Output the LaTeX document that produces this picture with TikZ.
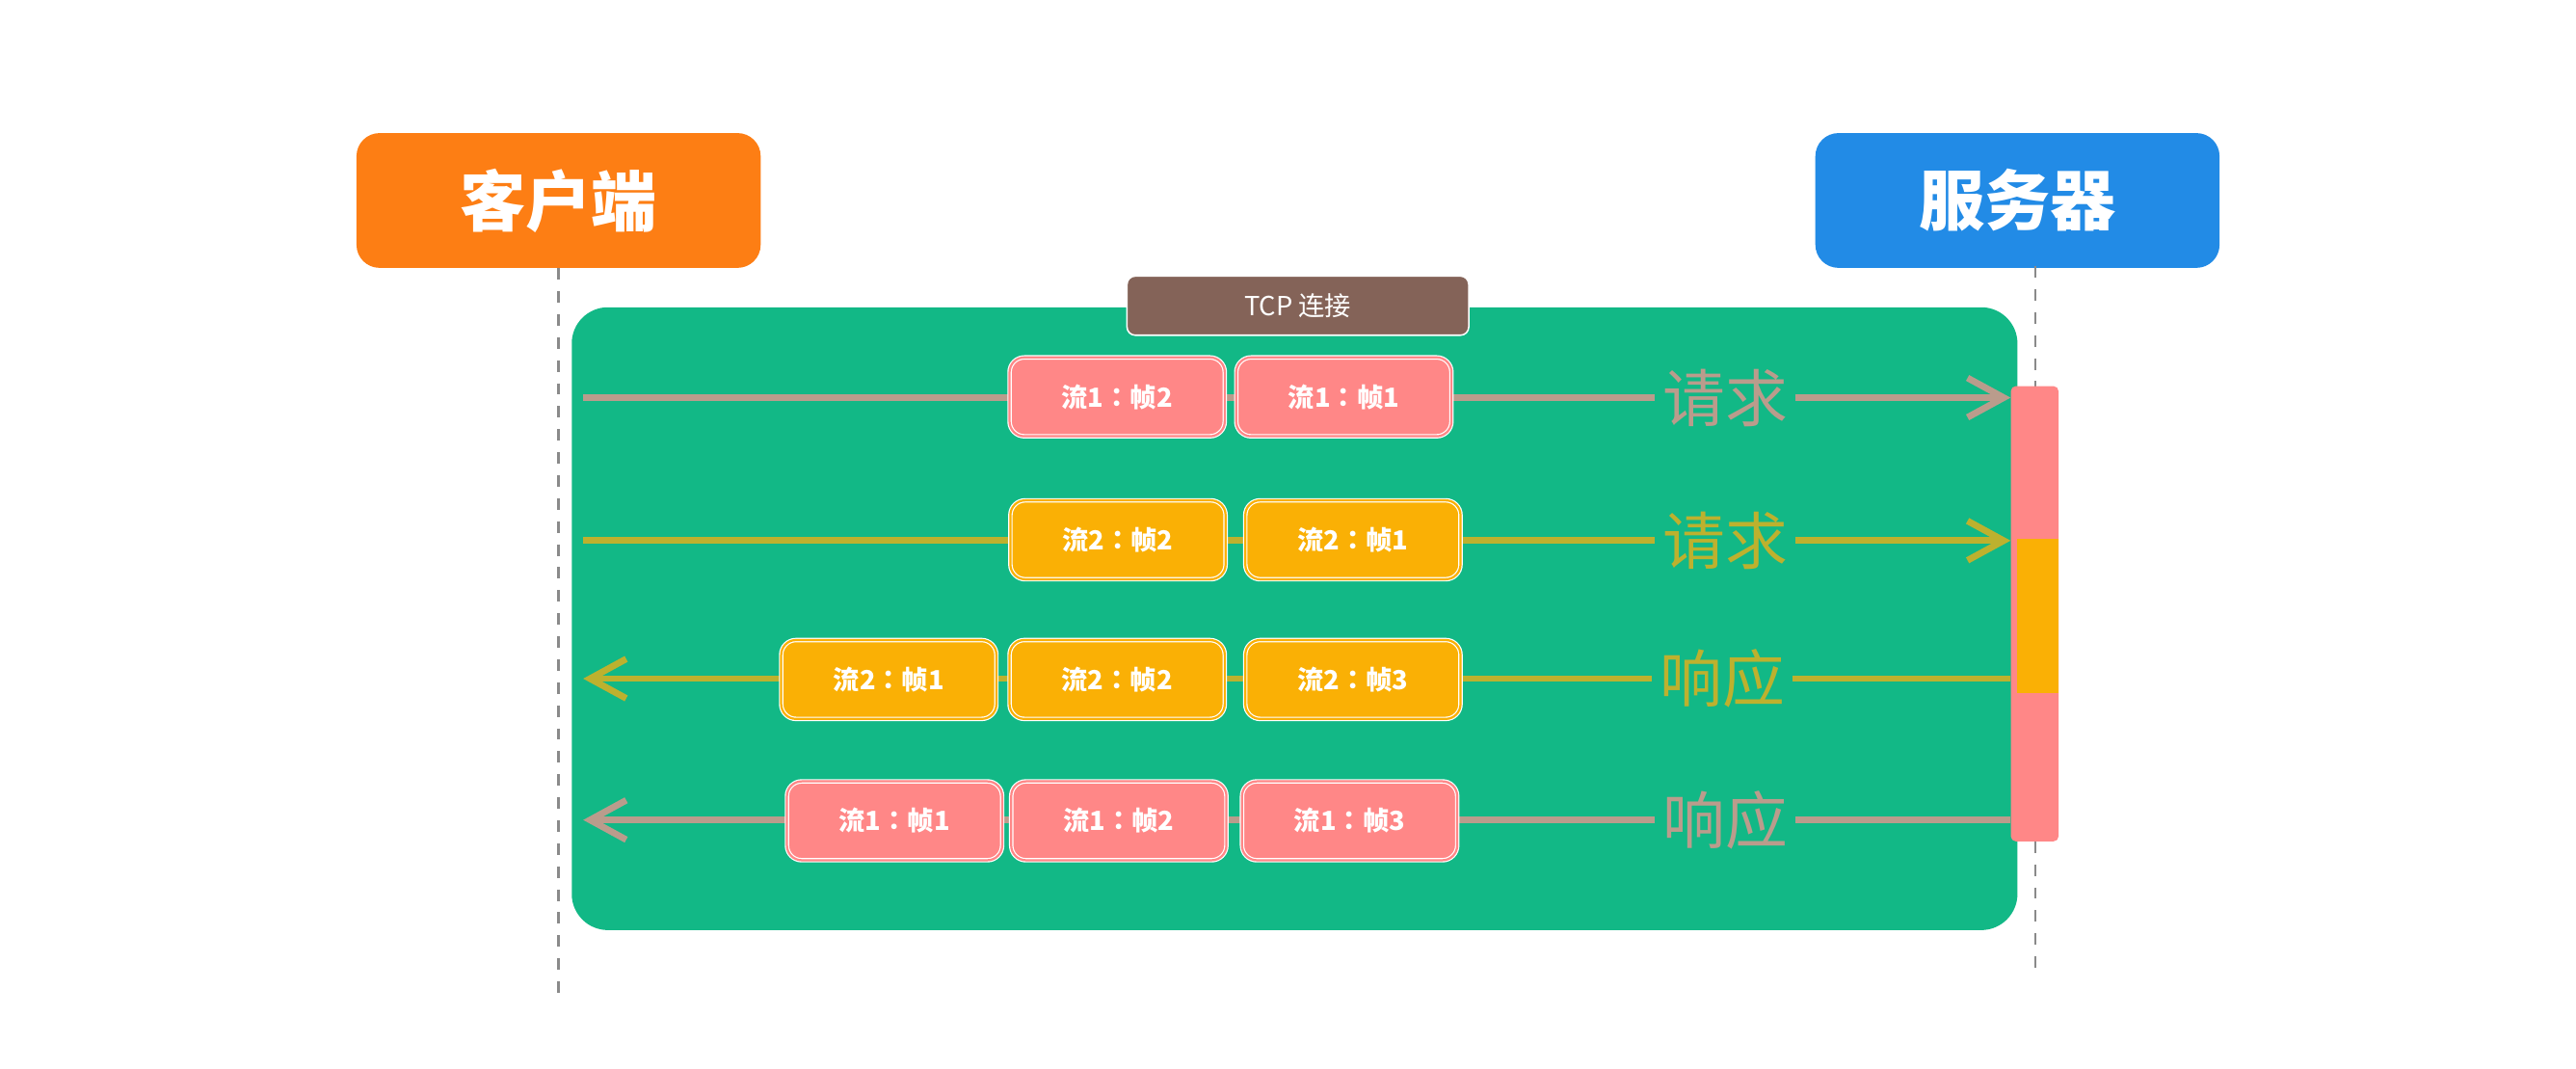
\documentclass[tikz,border=0pt]{standalone}
\usepackage{fontspec}
\setmainfont{Noto Sans CJK SC}
\newfontfamily\framefont{Noto Sans CJK TC}
\usetikzlibrary{arrows.meta}
\definecolor{conngreen}{HTML}{12B886}
\definecolor{framepink}{HTML}{FF8787}
\definecolor{frameorange}{HTML}{FAB005}
\definecolor{tcpbrown}{HTML}{846358}
\definecolor{clientorange}{HTML}{FD7E14}
\definecolor{serverblue}{HTML}{228BE6}
\definecolor{lineone}{HTML}{BA9C8C}
\definecolor{linetwo}{HTML}{BDB12E}
\definecolor{lifegray}{HTML}{8A8A8A}
\begin{document}
\begin{tikzpicture}[x=1pt,y=-1pt,
  header/.style={fill=#1, rounded corners=14pt, minimum width=246pt, minimum height=82pt,
    inner sep=0pt, text=white, font=\fontsize{40}{40}\selectfont\bfseries},
  framebox/.style={fill=#1, draw=white, double=#1, double distance=1.3pt, line width=0.7pt,
    rounded corners=9pt, minimum width=131pt, minimum height=48pt, inner sep=0pt,
    text=white, font=\framefont\fontsize{16}{16}\selectfont\bfseries},
  life/.style={draw=lifegray, line width=1.4pt, dash pattern=on 7pt off 7pt},
  flow/.style={draw=#1, line width=4pt},
  rtip/.style={-{Straight Barb[length=22pt,width=24pt]}},
  ltip/.style={{Straight Barb[length=22pt,width=24pt]}-},
  lab/.style={fill=conngreen, inner sep=5pt, text=#1, font=\fontsize{38}{38}\selectfont}]
\useasboundingbox (0,0) rectangle (1568,650);

% header boxes
\node[header=clientorange] (client) at (340,122) {客户端};
\node[header=serverblue] (server) at (1228,122) {服务器};

% lifelines
\coordinate (cEnd) at (340,610);
\coordinate (sTop) at (1239,162);
\coordinate (sEnd) at (1239,595);
\draw[life] (client.south -| cEnd) -- (cEnd);
\draw[life] (sTop) -- (sEnd);

% TCP connection area
\node[fill=conngreen, rounded corners=22pt, minimum width=880pt, minimum height=379pt, inner sep=0pt] (conn) at (788,376.5) {};
\node[fill=tcpbrown, draw=white, line width=0.9pt, rounded corners=5pt, minimum width=208pt, minimum height=36pt,
  inner sep=0pt, text=white, font=\fontsize{16}{16}\selectfont] (tcp) at (790,186) {TCP 连接};

% server activation bar
\node[fill=framepink, rounded corners=3pt, minimum width=29pt, minimum height=277pt, inner sep=0pt] (act) at (1238.5,373.5) {};
\node[fill=frameorange, minimum width=25pt, minimum height=94pt, inner sep=0pt] (actb) at (1240.5,375) {};

% rows
\coordinate (r1a) at (355,242); \coordinate (r1b) at (act.west |- r1a);
\coordinate (r2a) at (355,329); \coordinate (r2b) at (act.west |- r2a);
\coordinate (r3a) at (355,413); \coordinate (r3b) at (act.west |- r3a);
\coordinate (r4a) at (355,499); \coordinate (r4b) at (act.west |- r4a);

\draw[flow=lineone, rtip] (r1a) -- node[pos=0.8, lab=lineone] {请求} (r1b);
\draw[flow=linetwo, rtip] (r2a) -- node[pos=0.8, lab=linetwo] {请求} (r2b);
\draw[flow=linetwo, ltip] (r3a) -- node[pos=0.798, lab=linetwo] {响应} (r3b);
\draw[flow=lineone, ltip] (r4a) -- node[pos=0.8, lab=lineone] {响应} (r4b);

% frames
\node[framebox=framepink] (f11) at (680,241.5) {流1：帧2};
\node[framebox=framepink] (f12) at (818,241.5) {流1：帧1};

\node[framebox=frameorange] (f21) at (680.5,328.5) {流2：帧2};
\node[framebox=frameorange] (f22) at (823.5,328.5) {流2：帧1};

\node[framebox=frameorange] (f31) at (541,413.5) {流2：帧1};
\node[framebox=frameorange] (f32) at (680,413.5) {流2：帧2};
\node[framebox=frameorange] (f33) at (823.5,413.5) {流2：帧3};

\node[framebox=framepink] (f41) at (544.5,499.5) {流1：帧1};
\node[framebox=framepink] (f42) at (681,499.5) {流1：帧2};
\node[framebox=framepink] (f43) at (821.5,499.5) {流1：帧3};
\end{tikzpicture}
\end{document}
